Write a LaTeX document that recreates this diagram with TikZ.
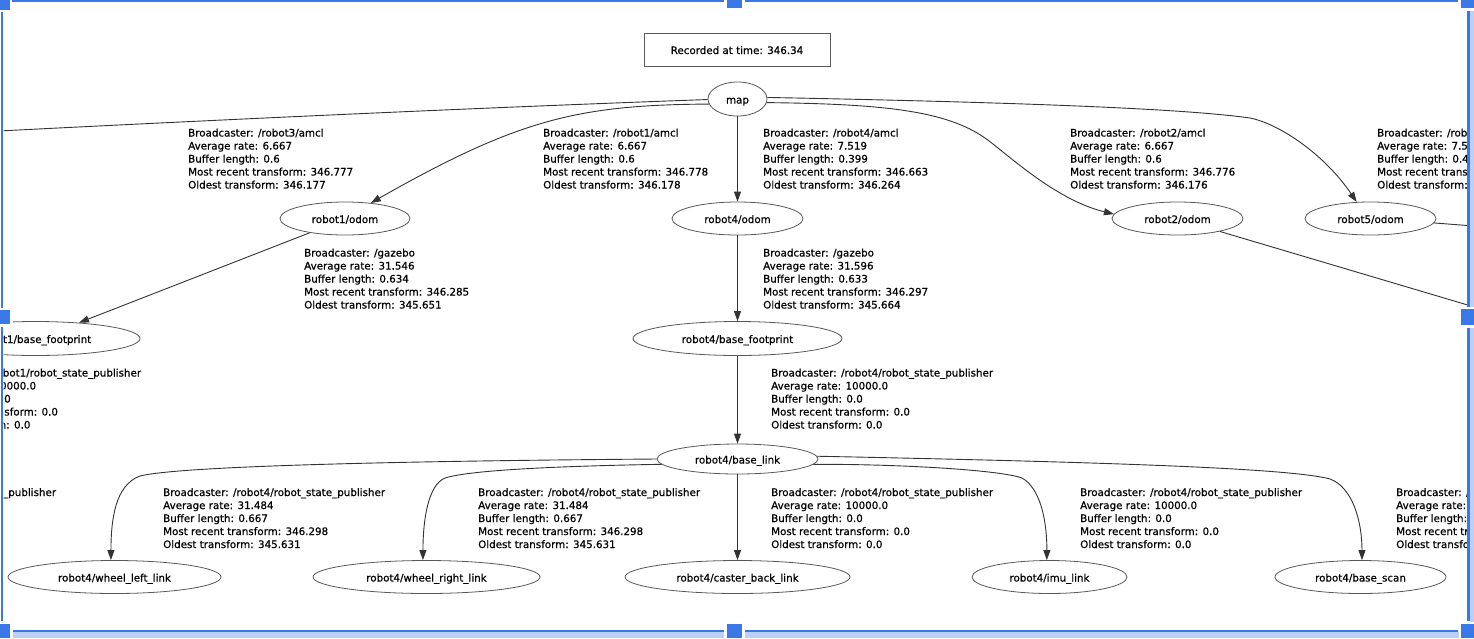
\documentclass[tikz,border=0pt]{standalone}
\usepackage{fontspec}
\setmainfont[FakeBold=0.6]{DejaVu Sans}
\usetikzlibrary{shapes.geometric,arrows.meta}
\definecolor{selblue}{HTML}{3B78E7}
\definecolor{sellight}{HTML}{BBD0F5}
\newcommand{\tfinfo}[5]{\vtop{\baselineskip=13pt\lineskiplimit=-20pt\hbox{Broadcaster: #1}\hbox{Average rate: #2}\hbox{Buffer length: #3}\hbox{Most recent transform: #4}\hbox{Oldest transform: #5}}}
\begin{document}
\begin{tikzpicture}[x=1pt,y=-1pt,
  tfnode/.style={ellipse, draw=black!65, line width=0.8pt, inner sep=0pt,
    text height=9pt, text depth=0pt, font=\fontsize{10.3}{13}\selectfont},
  recbox/.style={rectangle, draw=black!65, line width=0.8pt, inner sep=0pt,
    minimum width=186pt, minimum height=33pt,
    text height=9pt, text depth=0pt, font=\fontsize{10.3}{13}\selectfont},
  info/.style={anchor=base west, inner sep=0pt, font=\fontsize{10.3}{13}\selectfont},
  tfedge/.style={draw=black!80, line width=0.9pt, -{Triangle[length=10pt,width=7pt]}},
  offedge/.style={draw=black!80, line width=0.9pt}]
\useasboundingbox (0,0) rectangle (1474,638);
\fill[white] (0,0) rectangle (1474,638);
\begin{scope}
\clip (3.5,2) rectangle (1467,630.3);
% nodes
\node[recbox] (rec) at (737,49.5) {Recorded at time: 346.34};
\node[tfnode, minimum width=59pt, minimum height=34pt] (map) at (737.5,99) {map};
\node[tfnode, minimum width=130pt, minimum height=33pt] (r1odom) at (345,218.5) {robot1/odom};
\node[tfnode, minimum width=131pt, minimum height=33pt] (r4odom) at (737.5,218.5) {robot4/odom};
\node[tfnode, minimum width=131pt, minimum height=33pt] (r2odom) at (1177.5,218.5) {robot2/odom};
\node[tfnode, minimum width=131pt, minimum height=33pt] (r5odom) at (1370.5,218.5) {robot5/odom};
\node[tfnode, minimum width=209pt, minimum height=34pt] (r1bf) at (35.5,338.5) {robot1/base\_footprint};
\node[tfnode, minimum width=209pt, minimum height=34pt] (r4bf) at (737.5,338.5) {robot4/base\_footprint};
\node[tfnode, minimum width=161pt, minimum height=30pt] (r4bl) at (737.5,459) {robot4/base\_link};
\node[tfnode, minimum width=213pt, minimum height=33pt] (wl) at (114.5,577) {robot4/wheel\_left\_link};
\node[tfnode, minimum width=227pt, minimum height=33pt] (wr) at (426.5,577) {robot4/wheel\_right\_link};
\node[tfnode, minimum width=225pt, minimum height=33pt] (cb) at (737.5,577) {robot4/caster\_back\_link};
\node[tfnode, minimum width=155pt, minimum height=33pt] (imu) at (1049.5,577) {robot4/imu\_link};
\node[tfnode, minimum width=171pt, minimum height=33pt] (scan) at (1360.5,577) {robot4/base\_scan};
% off-picture ends
\coordinate (r3in) at (-60,134);
\coordinate (r2out) at (1500,314.6);
\coordinate (r5out) at (1500,228);
% labels
\node[info] (lr3) at (188,136.5) {\tfinfo{/robot3/amcl}{6.667}{0.6}{346.777}{346.177}};
\node[info] (lr1) at (543,136.5) {\tfinfo{/robot1/amcl}{6.667}{0.6}{346.778}{346.178}};
\node[info] (lr4) at (763,136.5) {\tfinfo{/robot4/amcl}{7.519}{0.399}{346.663}{346.264}};
\node[info] (lr2) at (1070,136.5) {\tfinfo{/robot2/amcl}{6.667}{0.6}{346.776}{346.176}};
\node[info] (lr5) at (1377,136.5) {\tfinfo{/robot5/amcl}{7.519}{0.4}{346.663}{346.264}};
\node[info] (lg1) at (304,256.5) {\tfinfo{/gazebo}{31.546}{0.634}{346.285}{345.651}};
\node[info] (lg4) at (763,256.5) {\tfinfo{/gazebo}{31.596}{0.633}{346.297}{345.664}};
\node[info] (ls1) at (-81,376.5) {\tfinfo{/robot1/robot\_state\_publisher}{10000.0}{0.0}{0.0}{0.0}};
\node[info] (ls4) at (771,376.5) {\tfinfo{/robot4/robot\_state\_publisher}{10000.0}{0.0}{0.0}{0.0}};
\node[info] (lx1) at (-166,496) {Broadcaster: /robot1/robot\_state\_publisher};
\node[info] (lwl) at (163,496) {\tfinfo{/robot4/robot\_state\_publisher}{31.484}{0.667}{346.298}{345.631}};
\node[info] (lwr) at (478,496) {\tfinfo{/robot4/robot\_state\_publisher}{31.484}{0.667}{346.298}{345.631}};
\node[info] (lcb) at (771,496) {\tfinfo{/robot4/robot\_state\_publisher}{10000.0}{0.0}{0.0}{0.0}};
\node[info] (limu) at (1080,496) {\tfinfo{/robot4/robot\_state\_publisher}{10000.0}{0.0}{0.0}{0.0}};
\node[info] (lsc) at (1396,496) {\tfinfo{/robot4/robot\_state\_publisher}{10000.0}{0.0}{0.0}{0.0}};
% edges
\draw[offedge] (map.181) .. controls (500,107) and (250,118) .. (r3in);
\draw[tfedge] (map.190) .. controls (580,105) and (520,118) .. (r1odom.31);
\draw[tfedge] (map.south) -- (r4odom.north);
\draw[tfedge] (map.353) .. controls (880,104) and (945,110) .. (985,138) .. controls (1005,152) and (1055,200) .. (r2odom.176);
\draw[tfedge] (map.3) .. controls (1000,102) and (1180,108) .. (1250,118) .. controls (1280,124) and (1325,155) .. (r5odom.130);
\draw[tfedge] (r1odom.202) -- (r1bf.20);
\draw[tfedge] (r4odom.south) -- (r4bf.north);
\draw[offedge] (r2odom.343) -- (r2out);
\draw[offedge] (r5odom.356) -- (r5out);
\draw[tfedge] (r4bf.south) -- (r4bl.north);
\draw[tfedge] (r4bl.180) .. controls (400,461) and (180,466) .. (140,476) .. controls (115,485) and (111,520) .. (wl.102);
\draw[tfedge] (r4bl.184) .. controls (560,466) and (470,470) .. (445,478) .. controls (428,485) and (423,520) .. (wr.102);
\draw[tfedge] (r4bl.south) -- (cb.north);
\draw[tfedge] (r4bl.356) .. controls (900,464) and (1000,470) .. (1022,478) .. controls (1040,488) and (1047,520) .. (imu.99);
\draw[tfedge] (r4bl.2) .. controls (1100,462) and (1290,468) .. (1330,479) .. controls (1352,487) and (1362,520) .. (scan.85);
\end{scope}
% selection frame
\fill[sellight] (1470,0) rectangle (1474,624);
\fill[sellight] (0,632.3) rectangle (1460,637.5);
\fill[selblue] (12,0) rectangle (1458,1.8);
\fill[selblue] (1,11) rectangle (3.3,621);
\fill[selblue] (1467.3,11) rectangle (1470,621);
\fill[selblue] (12,630.3) rectangle (1458,632.3);
\foreach \xa/\ya/\xb/\yb in {0/0/9.5/9.5, 726.7/0/742.3/8.3, 1461/0/1474/8.3, 0/310/10/324, 1461/309/1474/325, 0/624/10/638, 726.7/624.3/742.3/638, 1461/624/1474/638}{
  \fill[white] (\xa-2.5,\ya-2.5) rectangle (\xb+2.5,\yb+2.5);
  \fill[selblue] (\xa,\ya) rectangle (\xb,\yb);
}
\end{tikzpicture}
\end{document}
